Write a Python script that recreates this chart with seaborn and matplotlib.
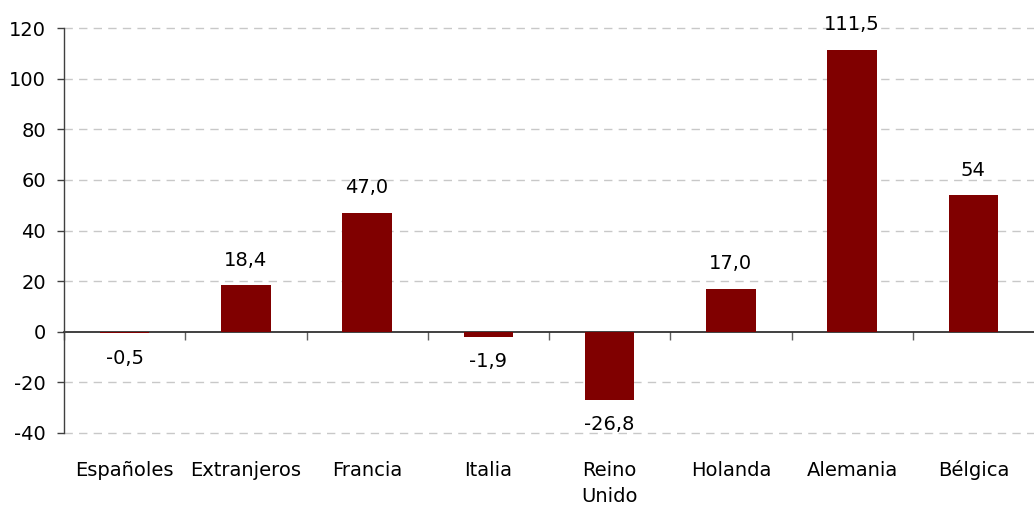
import matplotlib
matplotlib.use("Agg")
import matplotlib.pyplot as plt
import matplotlib.transforms as mtransforms
import seaborn as sns
import pandas as pd

# Data
categories = ["Españoles", "Extranjeros", "Francia", "Italia", "Reino\nUnido",
              "Holanda", "Alemania", "Bélgica"]
values = [-0.5, 18.4, 47.0, -1.9, -26.8, 17.0, 111.5, 54.0]
value_labels = ["-0,5", "18,4", "47,0", "-1,9", "-26,8", "17,0", "111,5", "54"]
y_ticks = [-40, -20, 0, 20, 40, 60, 80, 100, 120]

sns.set_theme(style="white")
plt.rcParams["font.family"] = ["DejaVu Sans"]

BAR_COLOR = "#800000"
FS = 14

df = pd.DataFrame({"cat": categories, "val": values})

fig = plt.figure(figsize=(10.34, 5.08), dpi=100)
ax = fig.add_axes([64 / 1034, 1 - 433 / 508, 1 - 64 / 1034, (433 - 28) / 508])

sns.barplot(data=df, x="cat", y="val", color=BAR_COLOR, saturation=1,
            width=0.41, linewidth=0, ax=ax, zorder=3)

n = len(categories)
ax.set_xlim(-0.5, n - 0.5)
ax.set_ylim(-40, 120)
ax.set_yticks(y_ticks)
ax.set_yticklabels([str(t) for t in y_ticks], fontsize=FS, color="black")
ax.set_xlabel("")
ax.set_ylabel("")

# dashed horizontal grid (skip zero, where the axis line sits)
for t in y_ticks:
    if t != 0:
        ax.axhline(t, color="#c8c8c8", lw=1.0, ls=(0, (6, 4.5)), zorder=1,
                   clip_on=False)

# spines
for s in ["top", "right"]:
    ax.spines[s].set_visible(False)
ax.spines["left"].set_color("#404040")
ax.spines["left"].set_linewidth(1.0)
ax.spines["bottom"].set_position(("data", 0))
ax.spines["bottom"].set_color("#202020")
ax.spines["bottom"].set_linewidth(1.2)
ax.spines["bottom"].set_zorder(2)

ax.tick_params(axis="y", which="major", direction="out", length=5, width=1,
               color="#404040", pad=8, left=True)

# x-axis: no labels on spine, minor ticks at category boundaries
ax.set_xticks(range(n))
ax.set_xticklabels([])
ax.tick_params(axis="x", which="major", length=0)
ax.set_xticks([i + 0.5 for i in range(-1, n - 1)], minor=True)
ax.tick_params(axis="x", which="minor", direction="out", length=6, width=1,
               color="#606060", bottom=True)

# category labels under the plot area, one line at a time on shared baselines
trans = mtransforms.blended_transform_factory(ax.transData, ax.transAxes)
for i, c in enumerate(categories):
    for k, line in enumerate(c.split("\n")):
        ax.annotate(line, xy=(i, 0), xycoords=trans,
                    xytext=(0, -31 - 19 * k), textcoords="offset points",
                    ha="center", va="baseline", fontsize=FS, color="black")

# value labels
for i, (v, lab) in enumerate(zip(values, value_labels)):
    off = 18 if v >= 0 else -18
    ax.annotate(lab, xy=(i, v), xytext=(0, off), textcoords="offset points",
                ha="center", va="center", fontsize=FS, color="black")

fig.savefig("out.png", dpi=100, facecolor="white")
